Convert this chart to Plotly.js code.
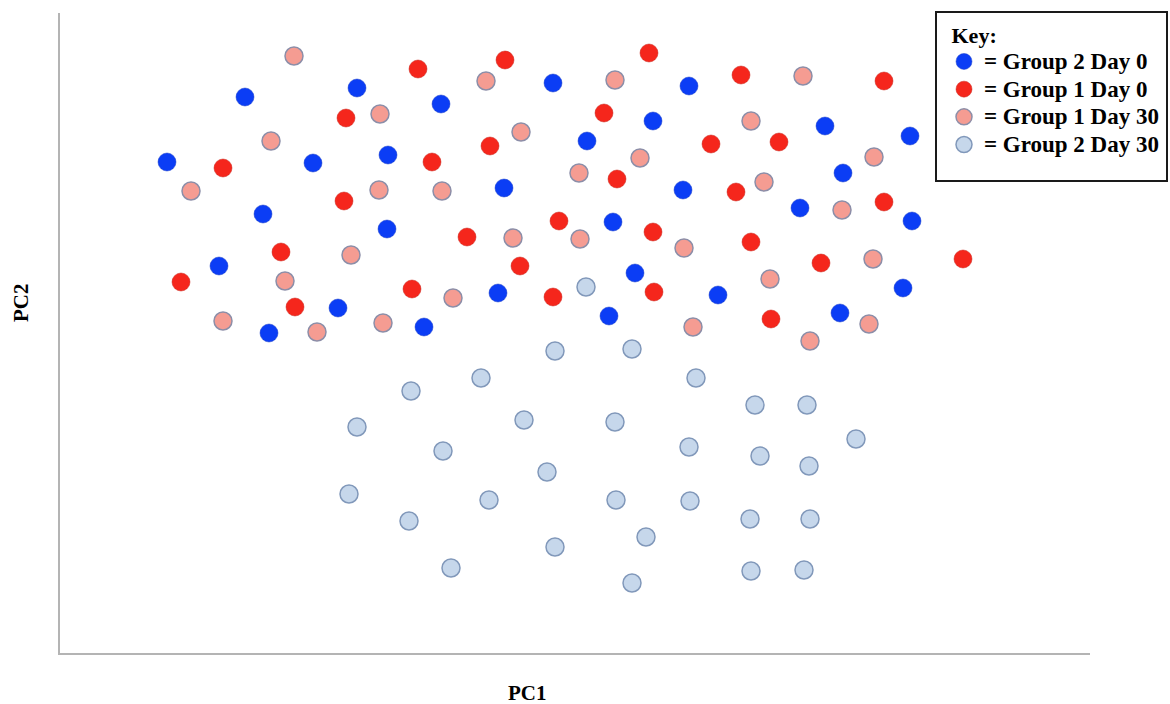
<!DOCTYPE html>
<html>
<head>
<meta charset="utf-8">
<script src="https://cdn.plot.ly/plotly-3.0.1.min.js"></script>
<style>html,body{margin:0;padding:0;background:#fff;}#chart{width:1170px;height:704px;}</style>
</head>
<body>
<div id="chart"></div>
<script>
// Group 2 Day 0 (blue)
const g2d0_x = [10.7,18.5,20.3,15.9,20.9,25.3,29.7,32.8,32.7,27.8,36.4,38.1,44.4,43.8,49.3,52.7,55.3,59.3,57.5,54.9,62.9,62.3,65.8,74.0,76.5,78.3,85.0,85.2,84.3,78.0];
const g2d0_y = [49.3,55.8,44.1,38.9,32.2,49.2,56.7,50.0,42.6,34.7,32.8,55.1,46.7,36.2,57.2,51.4,43.3,53.4,38.2,33.9,56.9,46.5,36.0,44.7,52.9,48.2,51.9,43.4,36.7,34.2];
// Group 1 Day 0 (red)
const g1d0_x = [35.8,44.5,28.6,43.0,16.3,37.2,28.4,40.7,46.0,22.1,12.1,35.2,23.5,58.9,68.1,82.4,54.4,65.1,71.9,55.7,67.6,82.4,49.9,59.3,69.1,76.1,90.3,49.3,59.4,71.1];
const g1d0_y = [58.6,59.5,53.7,50.9,48.7,49.3,45.4,41.8,38.9,40.3,37.3,36.6,34.8,60.2,58.0,57.4,54.2,51.1,51.3,47.6,46.3,45.3,43.4,42.3,41.3,39.2,39.6,35.8,36.3,33.6];
// Group 1 Day 30 (pink)
const g1d30_x = [23.4,42.6,32.0,46.1,21.1,13.1,31.9,38.2,29.1,45.3,22.5,39.3,16.3,25.7,32.3,55.5,74.3,69.1,58.0,51.9,81.4,70.4,78.2,52.0,62.4,81.3,71.0,63.3,80.9,75.0];
const g1d30_y = [59.9,57.4,54.1,52.3,51.4,46.4,46.5,46.4,40.0,41.7,37.4,35.7,33.4,32.3,33.2,57.5,57.9,53.4,49.7,48.2,49.8,47.3,44.5,41.6,40.7,39.6,37.6,32.8,33.1,31.4];
// Group 2 Day 30 (light blue)
const g2d30_x = [49.5,57.2,42.1,63.6,35.1,69.5,74.7,29.7,46.4,55.5,79.6,38.3,62.9,70.0,74.9,48.7,28.9,42.9,55.6,63.0,34.9,69.0,75.0,58.6,49.5,39.1,69.1,74.4,57.2,52.6];
const g2d30_y = [30.4,30.6,27.7,27.7,26.4,25.0,25.0,22.8,23.5,23.3,21.6,20.4,20.8,19.9,18.9,18.3,16.1,15.5,15.5,15.4,13.4,13.6,13.6,11.8,10.8,8.7,8.4,8.5,7.2,36.8];

const seriesNames = ['= Group 2 Day 0','= Group 1 Day 0','= Group 1 Day 30','= Group 2 Day 30'];
const axisTitles = ['PC1','PC2'];
const legendTitle = 'Key:';

const serif = 'Liberation Serif, Times New Roman, serif';

function tr(x, y, name, fill, lineColor, lineWidth) {
  return {
    type: 'scatter', mode: 'markers', x: x, y: y,
    name: '<span style="font-size:23px">' + name + '</span>',
    marker: {size: 18, color: fill, line: {color: lineColor, width: lineWidth}},
    hoverinfo: 'x+y'
  };
}

const data = [
  tr(g2d0_x, g2d0_y, seriesNames[0], '#0b3df5', '#1a3fc8', 0.5),
  tr(g1d0_x, g1d0_y, seriesNames[1], '#f5261c', '#c8261c', 0.5),
  tr(g1d30_x, g1d30_y, seriesNames[2], '#f59c92', '#8c8ea8', 1.5),
  tr(g2d30_x, g2d30_y, seriesNames[3], '#c6d7eb', '#8198ba', 1.5)
];

// plot area in page pixels: left 60, right 1090, top 13, bottom 653
const PW = 1030, PH = 640;
const layout = {
  width: 1170, height: 704,
  margin: {l: 60, r: 80, t: 13, b: 51, pad: 0, autoexpand: false},
  paper_bgcolor: '#ffffff', plot_bgcolor: '#ffffff',
  showlegend: true,
  xaxis: {range: [0, 103], showgrid: false, zeroline: false, showticklabels: false, ticks: '',
          showline: true, linecolor: '#b4b4b4', linewidth: 2, fixedrange: true},
  yaxis: {range: [0.2, 64.2], showgrid: false, zeroline: false, showticklabels: false, ticks: '',
          showline: true, linecolor: '#b4b4b4', linewidth: 2, fixedrange: true},
  legend: {
    x: (944 - 60) / PW, xanchor: 'left', y: (653 - 14) / PH, yanchor: 'top',
    bgcolor: 'rgba(0,0,0,0)', borderwidth: 0,
    font: {family: serif, size: 19, color: '#000', weight: 'bold'},
    title: {text: '\u00a0' + legendTitle, font: {family: serif, size: 22, color: '#000', weight: 'bold'}},
    traceorder: 'normal', itemwidth: 30, tracegroupgap: 0
  },
  shapes: [
    {type: 'rect', xref: 'paper', yref: 'paper', layer: 'above',
     x0: (936 - 60) / PW, x1: (1167 - 60) / PW, y0: (653 - 181) / PH, y1: (653 - 12) / PH,
     fillcolor: '#ffffff', line: {color: '#1a1a1a', width: 2}}
  ],
  annotations: [
    {text: axisTitles[0], xref: 'paper', yref: 'paper', x: (527 - 60) / PW, y: -(693 - 653) / PH,
     xanchor: 'center', yanchor: 'middle', showarrow: false,
     font: {family: serif, size: 21, color: '#000', weight: 'bold'}},
    {text: axisTitles[1], xref: 'paper', yref: 'paper', x: -(60 - 21) / PW, y: (653 - 303) / PH,
     xanchor: 'center', yanchor: 'middle', showarrow: false, textangle: -90,
     font: {family: serif, size: 21, color: '#000', weight: 'bold'}}
  ]
};

Plotly.newPlot('chart', data, layout, {displayModeBar: false, staticPlot: true});
</script>
</body>
</html>
